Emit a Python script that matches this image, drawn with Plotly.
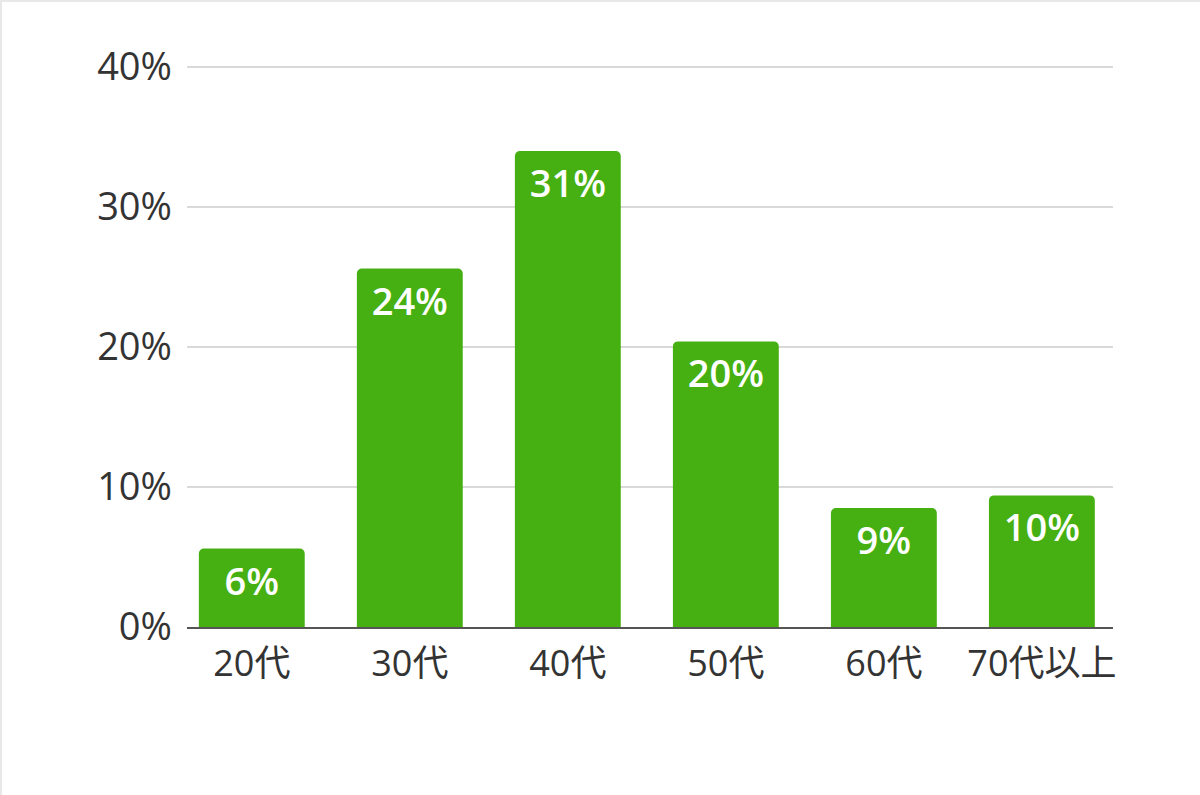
import plotly.graph_objects as go

# 年代別の割合（棒の高さは図から読み取り、ラベルは表示どおり）
age_groups = ["20代", "30代", "40代", "50代", "60代", "70代以上"]
bar_heights = [5.6, 25.6, 34.0, 20.4, 8.5, 9.4]
bar_labels = ["6%", "24%", "31%", "20%", "9%", "10%"]
y_ticks = [0, 10, 20, 30, 40]
y_tick_text = ["0%", "10%", "20%", "30%", "40%"]

W, H = 1200, 795
L, R, T, B = 187, 87, 62, 168
FONT = "'Open Sans', 'Noto Sans CJK JP', sans-serif"

fig = go.Figure(go.Bar(
    x=age_groups, y=bar_heights,
    text=bar_labels,
    textposition="inside",
    insidetextanchor="end",
    textangle=0,
    textfont=dict(family=FONT, size=38, color="white", weight=600),
    marker=dict(color="#46b012", line=dict(width=0)),
    hoverinfo="skip",
))

pw = W - L - R
ph = H - T - B
# 薄いグレーの外枠
fig.add_shape(
    type="rect", xref="paper", yref="paper",
    x0=-(L - 1) / pw, x1=(W - L + 2) / pw,
    y0=-(B + 2) / ph, y1=(H - B - 1) / ph,
    line=dict(color="#e8e8e8", width=2), layer="below",
)

fig.update_layout(
    width=W, height=H,
    margin=dict(l=L, r=R, t=T, b=B),
    paper_bgcolor="white", plot_bgcolor="white",
    bargap=0.33, barcornerradius=5,
    showlegend=False,
    font=dict(family=FONT, color="#333333"),
    xaxis=dict(
        type="category", range=[-0.41, 5.45],
        showline=True, linecolor="#555555", linewidth=2,
        ticks="", tickfont=dict(size=36, color="#333333"),
        ticklabelstandoff=4,
        showgrid=False, fixedrange=True,
    ),
    yaxis=dict(
        range=[0, ph / 14.0], tickvals=y_ticks, ticktext=y_tick_text,
        showgrid=True, gridcolor="#d9d9d9", gridwidth=1.5,
        zeroline=False, showline=False, ticks="",
        ticklabelstandoff=14,
        tickfont=dict(size=38, color="#333333"), fixedrange=True,
    ),
)

fig.write_html(
    "out.html",
    config={"displayModeBar": False},
    post_script="document.body.style.margin='0';",
)
